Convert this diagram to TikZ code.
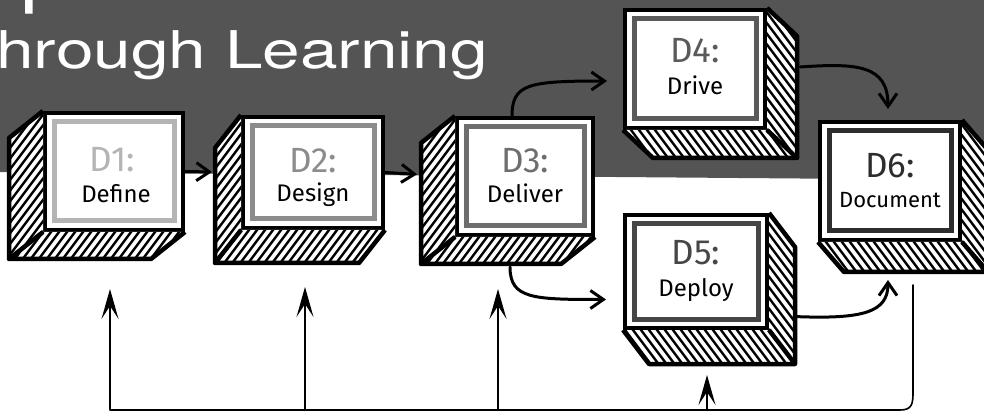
\documentclass[tikz,border=0pt]{standalone}
\usepackage{fontspec}
\setmainfont{Fira Sans}
\newfontfamily\titlefont{TeX Gyre Heros}
\usetikzlibrary{calc,arrows.meta}
\definecolor{bgdark}{RGB}{84,84,84}
\definecolor{g1}{RGB}{180,180,180}
\definecolor{g2}{RGB}{140,140,140}
\definecolor{g3}{RGB}{110,110,110}
\definecolor{g4}{RGB}{90,90,90}
\definecolor{g5}{RGB}{70,70,70}
\definecolor{g6}{RGB}{45,45,45}
\tikzset{
  front/.style={draw=black, line width=4pt, fill=white, rectangle, inner sep=0pt,
    minimum width=#1},
  front/.default=140pt,
  faceout/.style={draw=black, line width=4.5pt, line join=round},
  hatchln/.style={line width=2.4pt, black},
  frame/.style={draw=#1, line width=5pt},
  bigtxt/.style={anchor=base, inner sep=0pt, font=\fontsize{35}{35}\selectfont, text=#1},
  smalltxt/.style={anchor=base, inner sep=0pt, font=\fontsize{24}{24}\selectfont, text=black},
  flow/.style={line width=3pt, line cap=round, -{Straight Barb[length=13pt,width=18pt,line width=3pt]}},
  fb/.style={line width=1.6pt, -{Stealth[length=30pt,width=17pt,inset=13pt]}},
  bus/.style={line width=1.6pt, line cap=round}
}
% cube extruded to lower-left: #1 name, #2 dx, #3 dy
\newcommand{\cubeL}[3]{%
  \begin{scope}
    \clip (#1.north west) -- ++(#2,#3) -- ($(#1.south west)+(#2,#3)$) -- ($(#1.south east)+(#2,#3)$) -- (#1.south east) -- (#1.south west) -- cycle;
    \fill[white] (#1.north west) -- ++(#2,#3) -- ($(#1.south west)+(#2,#3)$) -- ($(#1.south east)+(#2,#3)$) -- (#1.south east) -- (#1.south west) -- cycle;
    \foreach \k in {-304,-296,...,304} \draw[hatchln] ($(#1.south west)+(\k,0)+(-120,160)$) -- ++(240,-320);
  \end{scope}
  \draw[faceout] (#1.north west) -- ++(#2,#3) -- ($(#1.south west)+(#2,#3)$) -- ($(#1.south east)+(#2,#3)$) -- (#1.south east);
  \draw[faceout] (#1.south west) -- ($(#1.south west)+(#2,#3)$);
}
% cube extruded to lower-right
\newcommand{\cubeR}[3]{%
  \begin{scope}
    \clip (#1.north east) -- ++(#2,#3) -- ($(#1.south east)+(#2,#3)$) -- ($(#1.south west)+(#2,#3)$) -- (#1.south west) -- (#1.south east) -- cycle;
    \fill[white] (#1.north east) -- ++(#2,#3) -- ($(#1.south east)+(#2,#3)$) -- ($(#1.south west)+(#2,#3)$) -- (#1.south west) -- (#1.south east) -- cycle;
    \foreach \k in {-304,-296,...,304} \draw[hatchln] ($(#1.south east)+(\k,0)+(-120,-160)$) -- ++(240,320);
  \end{scope}
  \draw[faceout] (#1.north east) -- ++(#2,#3) -- ($(#1.south east)+(#2,#3)$) -- ($(#1.south west)+(#2,#3)$) -- (#1.south west);
  \draw[faceout] (#1.south east) -- ($(#1.south east)+(#2,#3)$);
}
\newcommand{\innerframe}[2]{%
  \draw[frame=#2] ($(#1.north west)+(11,11)$) rectangle ($(#1.south east)+(-11,-11)$);
}
\begin{document}
\begin{tikzpicture}[x=1pt,y=-1pt]
\clip (0,0) rectangle (984,419);
\fill[white] (0,0) rectangle (984,419);
\fill[bgdark] (0,0) -- (984,0) -- (984,180) -- (0,172) -- cycle;

% title fragments
\node[anchor=base west, inner sep=0pt, text=white] (toprow) at (20,-1)
  {\titlefont\fontsize{72}{72}\selectfont\scalebox{1.27}[1]{p}};
\node[anchor=base west, inner sep=0pt, text=white] (title) at (-4,69)
  {\titlefont\fontsize{52}{52}\selectfont\scalebox{1.3}[1]{hrough Learning}};

% boxes
\node[front=138pt, minimum height=117pt] (d1) at (114,171.5) {};
\node[front=140pt, minimum height=111pt] (d2) at (313,172.5) {};
\node[front=136pt, minimum height=117pt] (d3) at (525,176.5) {};
\node[front=140pt, minimum height=118pt] (d4) at (695,69) {};
\node[front=142pt, minimum height=113pt] (d5) at (696,271.5) {};
\node[front=140pt, minimum height=118pt] (d6) at (890,181) {};

\cubeL{d1}{-34}{27}
\cubeL{d2}{-26}{33}
\cubeL{d3}{-34}{27}
\cubeR{d4}{30}{28}
\cubeR{d5}{26}{34}
\cubeR{d6}{26}{30}

\innerframe{d1}{g1}
\innerframe{d2}{g2}
\innerframe{d3}{g3}
\innerframe{d4}{g4}
\innerframe{d5}{g5}
\innerframe{d6}{g6}

\node[bigtxt=g1] (d1a) at ($(d1.center)+(-2,0.5)$) {D1:};
\node[smalltxt] (d1b) at ($(d1.center)+(2,31)$) {Define};
\node[bigtxt=g2] (d2a) at ($(d2.center)+(0,0.5)$) {D2:};
\node[smalltxt] (d2b) at ($(d2.center)+(0,29.5)$) {Design};
\node[bigtxt=g3] (d3a) at ($(d3.center)+(0,-3.5)$) {D3:};
\node[smalltxt] (d3b) at ($(d3.center)+(0,26.5)$) {Deliver};
\node[bigtxt=g4] (d4a) at ($(d4.center)+(0,-6)$) {D4:};
\node[smalltxt] (d4b) at ($(d4.center)+(0,26)$) {Drive};
\node[bigtxt=g5] (d5a) at ($(d5.center)+(0,-6.5)$) {D5:};
\node[smalltxt] (d5b) at ($(d5.center)+(0,25.5)$) {Deploy};
\node[bigtxt=g6] (d6a) at ($(d6.center)+(0,-3)$) {D6:};
\node[smalltxt, font=\fontsize{22}{22}\selectfont] (d6b) at ($(d6.center)+(0,27)$) {Document};

% flow connectors
\draw[flow, shorten >=29pt] (d1.east) -- (d2.west);
\draw[flow, shorten >=38pt] (d2.east) -- (d3.west);
\draw[flow] ($(d3.north)+(-13,0)$) .. controls ($(d3.north)+(-13,-32)$) and ($(d4.west)+(-95,12)$) .. ($(d4.west)+(-16,12)$);
\draw[flow] ($(d4.east)+(33,-2)$) .. controls ($(d4.east)+(90,-6)$) and ($(d6.north)+(-2,-55)$) .. ($(d6.north)+(-2,-11)$);
\draw[flow] ($(d3.south)+(-15,30)$) .. controls ($(d3.south)+(-15,62)$) and ($(d5.west)+(-90,28)$) .. ($(d5.west)+(-17,28)$);
\draw[flow] ($(d5.east)+(25,45)$) .. controls ($(d5.east)+(95,48)$) and ($(d6.south)+(-2,70)$) .. ($(d6.south)+(-2,38)$);

% feedback bus
\coordinate (b1) at (110,410);
\coordinate (b2) at (305,410);
\coordinate (b3) at (498,410);
\coordinate (b4) at (707,410);
\coordinate (b5) at (913,285);
\draw[bus] (b1) -- (900,410) .. controls (912,410) and (913,404) .. (913,392) -- (b5);
\draw[fb] (b1) -- ($(d1.south)+(-4,57)$);
\draw[fb] (b2) -- ($(d2.south)+(-8,57)$);
\draw[fb] (b3) -- ($(d3.south)+(-27,52)$);
\draw[fb] (b4) -- ($(d5.south)+(11,45)$);
\end{tikzpicture}
\end{document}
